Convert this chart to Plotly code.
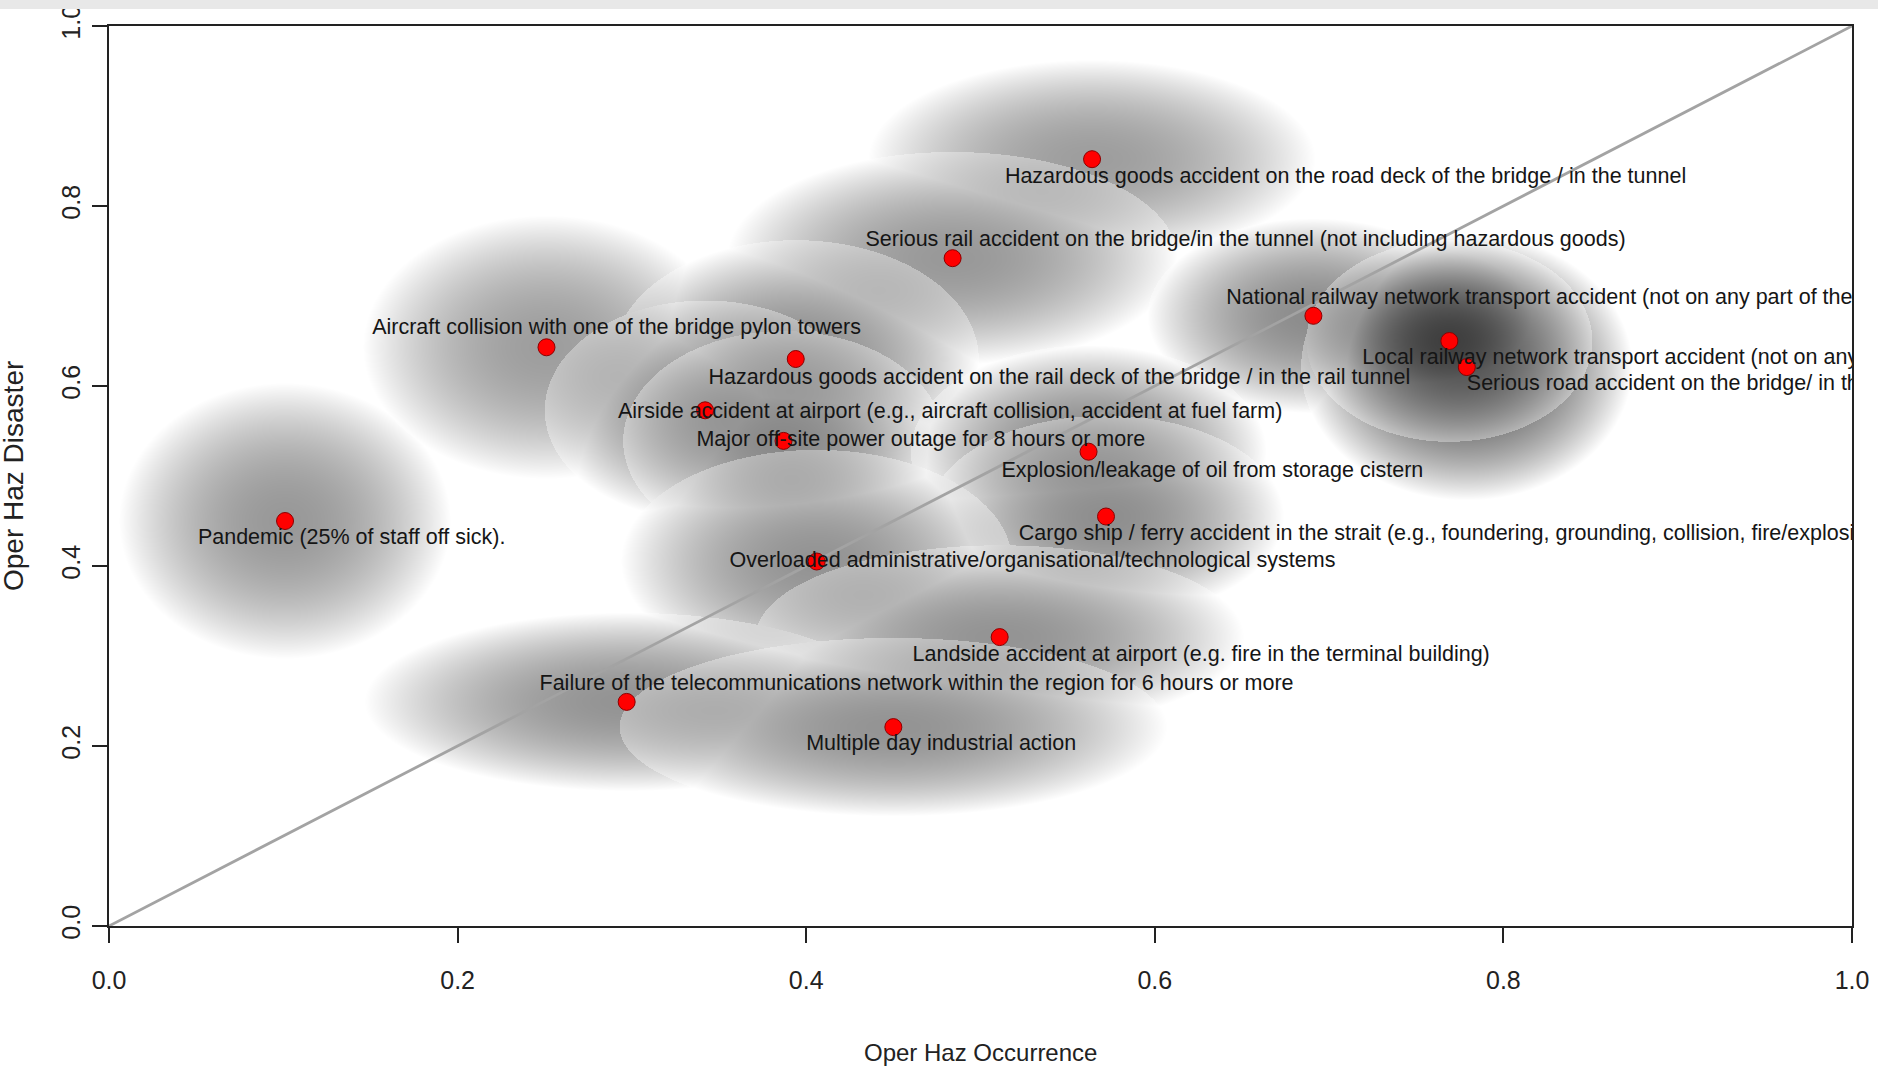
import base64
import struct
import zlib

import numpy as np
import plotly.graph_objects as go

# Operational hazards: likelihood of occurrence vs. disaster potential
hazards = [
    "Pandemic (25% of staff off sick).",
    "Aircraft collision with one of the bridge pylon towers",
    "Hazardous goods accident on the road deck of the bridge / in the tunnel",
    "Serious rail accident on the bridge/in the tunnel (not including hazardous goods)",
    "National railway network transport accident (not on any part of the bridge/tunnel)",
    "Serious road accident on the bridge/ in the tunnel",
    "Local railway network transport accident (not on any part of the bridge/tunnel)",
    "Hazardous goods accident on the rail deck of the bridge / in the rail tunnel",
    "Airside accident at airport (e.g., aircraft collision, accident at fuel farm)",
    "Major off-site power outage for 8 hours or more",
    "Explosion/leakage of oil from storage cistern",
    "Cargo ship / ferry accident in the strait (e.g., foundering, grounding, collision, fire/explosion)",
    "Overloaded administrative/organisational/technological systems",
    "Landside accident at airport (e.g. fire in the terminal building)",
    "Failure of the telecommunications network within the region for 6 hours or more",
    "Multiple day industrial action",
]
occurrence = [0.101, 0.251, 0.564, 0.484, 0.691, 0.779, 0.769, 0.394,
              0.342, 0.387, 0.562, 0.572, 0.406, 0.511, 0.297, 0.450]
disaster = [0.450, 0.643, 0.852, 0.742, 0.678, 0.621, 0.650, 0.630,
            0.573, 0.539, 0.527, 0.455, 0.405, 0.321, 0.249, 0.221]
# spread of the responses around each mean (half-widths) and their weight
spread_occ = [0.095, 0.105, 0.128, 0.129, 0.095, 0.095, 0.082, 0.105,
              0.092, 0.092, 0.102, 0.102, 0.112, 0.140, 0.150, 0.157]
spread_dis = [0.153, 0.146, 0.110, 0.118, 0.108, 0.148, 0.112, 0.132,
              0.122, 0.122, 0.118, 0.112, 0.124, 0.102, 0.099, 0.099]
shade = [0.60, 0.62, 0.62, 0.60, 0.55, 0.35, 0.25, 0.56,
         0.56, 0.54, 0.54, 0.56, 0.58, 0.58, 0.58, 0.58]

# label placement relative to each point (data units)
label_dx = [-0.05, -0.10, -0.05, -0.05, -0.05, 0.0, -0.05, -0.05,
            -0.05, -0.05, -0.05, -0.05, -0.05, -0.05, -0.05, -0.05]
label_dy = [-0.02, 0.021, -0.021, 0.019, 0.019, -0.02, -0.02, -0.022,
            -0.003, 0.0, -0.022, -0.02, 0.0, -0.021, 0.019, -0.02]

x_ticks = [0.0, 0.2, 0.4, 0.6, 0.8, 1.0]
y_ticks = [0.0, 0.2, 0.4, 0.6, 0.8, 1.0]

FONT = "Liberation Sans, Arial, sans-serif"
INK = "#151515"


def shaded_ellipses(width, height):
    """Grey halo per hazard: dark at the mean, pale at the rim.

    Halos are painted in order (later ones cover earlier ones) and the result
    is softened with the darkest-wins union so the covered rims stay subtle.
    """
    xs = (np.arange(width) + 0.5) / width
    ys = 1.0 - (np.arange(height) + 0.5) / height
    gx, gy = np.meshgrid(xs, ys)
    painted = np.ones((height, width))
    darkest = np.ones((height, width))
    for cx, cy, sx, sy, c in zip(occurrence, disaster, spread_occ, spread_dis, shade):
        r2 = ((gx - cx) / sx) ** 2 + ((gy - cy) / sy) ** 2
        inside = r2 < 1.0
        v = c + (1.0 - c) * r2[inside]
        painted[inside] = v
        darkest[inside] = np.minimum(darkest[inside], v)
    img = 0.65 * darkest + 0.35 * painted
    return (np.clip(img, 0, 1) * 255).astype(np.uint8)


def to_png(gray):
    h, w = gray.shape
    raw = b"".join(b"\x00" + row.tobytes() for row in gray)

    def chunk(tag, data):
        return (struct.pack(">I", len(data)) + tag + data
                + struct.pack(">I", zlib.crc32(tag + data) & 0xFFFFFFFF))

    return (b"\x89PNG\r\n\x1a\n"
            + chunk(b"IHDR", struct.pack(">IIBBBBB", w, h, 8, 0, 0, 0, 0))
            + chunk(b"IDAT", zlib.compress(raw, 9))
            + chunk(b"IEND", b""))


W, H = 1878, 1067
M_L, M_R, M_T, M_B = 109, 26, 26, 141
plot_w, plot_h = W - M_L - M_R, H - M_T - M_B

halo = to_png(shaded_ellipses(plot_w, plot_h))
halo_uri = "data:image/png;base64," + base64.b64encode(halo).decode()

fig = go.Figure()

# 1:1 reference line
fig.add_trace(go.Scatter(
    x=[0, 1], y=[0, 1], mode="lines",
    line=dict(color="#a3a3a3", width=2.8),
    hoverinfo="skip", showlegend=False,
))

fig.add_trace(go.Scatter(
    x=occurrence, y=disaster, mode="markers",
    marker=dict(size=17, color="#ff0000", line=dict(color="#8b0000", width=1)),
    text=hazards, hoverinfo="text", showlegend=False,
))

fig.add_trace(go.Scatter(
    x=[x + d for x, d in zip(occurrence, label_dx)],
    y=[y + d for y, d in zip(disaster, label_dy)],
    mode="text", text=hazards, textposition="middle right",
    textfont=dict(family=FONT, size=21.5, color=INK),
    cliponaxis=True, hoverinfo="skip", showlegend=False,
))

axis_common = dict(
    range=[0, 1], showgrid=False, zeroline=False, automargin=False,
    showline=True, linecolor="#222222", linewidth=2, mirror=True,
    ticks="outside", ticklen=15, tickwidth=2, tickcolor="#222222",
    tickfont=dict(family=FONT, size=25, color="#222222"),
    tickformat=".1f",
)

fig.update_xaxes(**axis_common, tickvals=x_ticks, ticklabelstandoff=16)
fig.update_yaxes(**axis_common, tickvals=y_ticks, tickangle=-90, ticklabelstandoff=2)

fig.update_layout(
    width=W, height=H, autosize=False,
    margin=dict(l=M_L, r=M_R, t=M_T, b=M_B, pad=0),
    paper_bgcolor="white", plot_bgcolor="white",
    annotations=[
        dict(text="Oper Haz Occurrence", xref="paper", yref="paper",
             x=0.5, y=(926 - 1052) / plot_h, xanchor="center", yanchor="middle",
             showarrow=False, font=dict(family=FONT, size=24, color="#222222")),
        dict(text="Oper Haz Disaster", xref="paper", yref="paper",
             x=(13 - M_L) / plot_w, y=0.5, xanchor="center", yanchor="middle",
             textangle=-90, showarrow=False,
             font=dict(family=FONT, size=28, color="#222222")),
    ],
    images=[dict(
        source=halo_uri, xref="x", yref="y", x=0, y=1, sizex=1, sizey=1,
        xanchor="left", yanchor="top", sizing="stretch", layer="below",
    )],
    shapes=[dict(
        type="rect", xref="paper", yref="paper",
        x0=-0.1, x1=1.1, y0=1 + 17 / plot_h, y1=1.1,
        fillcolor="#e8e8e8", line=dict(width=0), layer="above",
    )],
)

fig.write_html("out.html")
